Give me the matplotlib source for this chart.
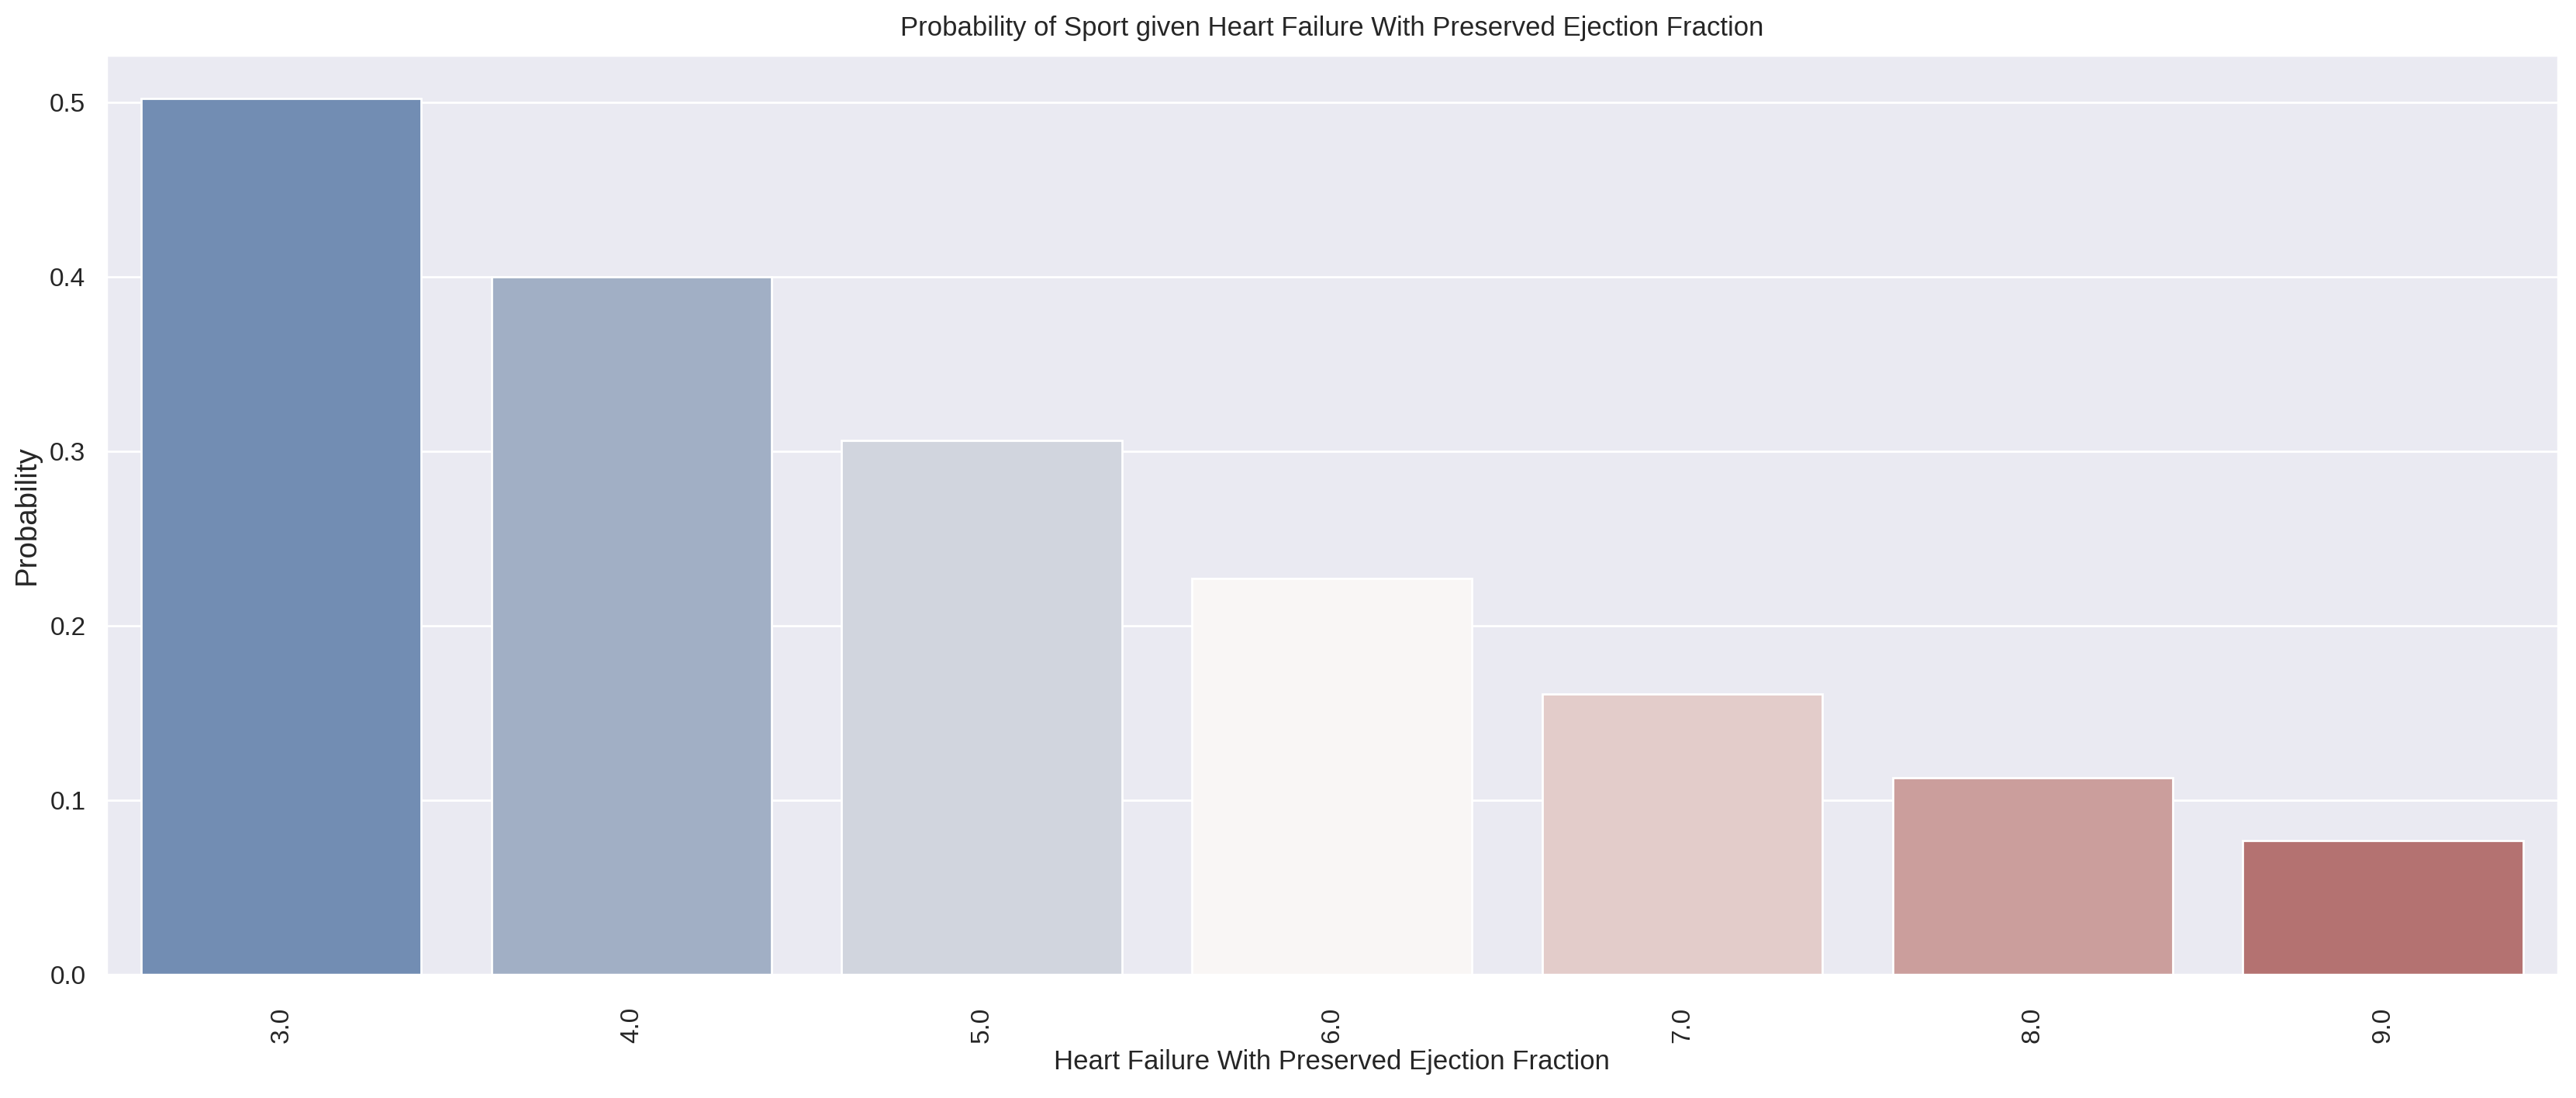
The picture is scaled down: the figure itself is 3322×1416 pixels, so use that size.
import matplotlib
matplotlib.use("Agg")
import matplotlib.pyplot as plt
import seaborn as sns
import pandas as pd

# values
levels = ["3.0", "4.0", "5.0", "6.0", "7.0", "8.0", "9.0"]
probability = [0.502, 0.400, 0.306, 0.227, 0.161, 0.113, 0.077]

sns.set_theme(style="darkgrid")
plt.rcParams['font.family'] = ['Liberation Sans', 'DejaVu Sans']

df = pd.DataFrame({"level": levels, "prob": probability})

fig, ax = plt.subplots(figsize=(16.61, 7.08), dpi=200)
sns.barplot(data=df, x="level", y="prob", hue="level", palette="vlag",
            legend=False, ax=ax)

ax.set_title("Probability of Sport given Heart Failure With Preserved Ejection Fraction",
             fontsize=12.5, pad=9)
ax.set_xlabel("Heart Failure With Preserved Ejection Fraction", fontsize=12.5, labelpad=3)
ax.set_ylabel("Probability", fontsize=13.8)
ax.tick_params(axis="both", labelsize=12)
ax.tick_params(axis="x", pad=9)
plt.xticks(rotation=90)

plt.subplots_adjust(left=0.0412, right=0.993, top=0.95, bottom=0.1123)
plt.savefig("out.png", dpi=200)
plt.close()
